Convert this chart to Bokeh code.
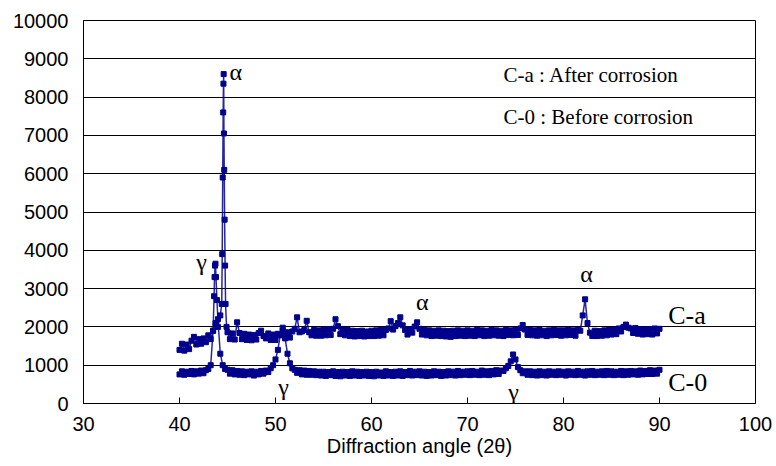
import numpy as np
from bokeh.plotting import figure
from bokeh.models import Label, FixedTicker, ColumnDataSource
from bokeh.embed import file_html
from bokeh.resources import INLINE

# ---------------- data ----------------
# base scan grid: 40.00 .. 90.00 deg, step 0.25 deg
grid_start = 40.0
grid_step = 0.25

c0_y = [
    760, 840, 750, 830, 770, 850, 760, 840, 780, 860, 790, 870, 900, 1000, 1900, 3650, 2200, 1300, 1000, 900,
    880, 780, 870, 760, 850, 750, 840, 740, 830, 760, 840, 730, 830, 760, 850, 780, 860, 820, 920, 1000,
    1150, 1400, 1800, 1980, 1700, 1300, 1050, 920, 880, 800, 870, 760, 860, 750, 850, 750, 840, 740, 830, 730,
    830, 720, 820, 740, 840, 720, 820, 710, 830, 730, 820, 720, 840, 730, 830, 720, 820, 730, 830, 720,
    820, 710, 830, 730, 810, 720, 840, 730, 820, 720, 830, 730, 840, 720, 820, 740, 850, 730, 830, 740,
    840, 730, 830, 720, 820, 730, 840, 740, 830, 720, 820, 730, 840, 740, 830, 730, 850, 740, 830, 750,
    840, 740, 850, 750, 830, 740, 860, 750, 840, 740, 850, 760, 870, 770, 860, 850, 920, 980, 1100, 1280,
    1150, 950, 870, 790, 840, 750, 840, 740, 830, 730, 840, 740, 830, 730, 840, 750, 830, 740, 840, 750,
    830, 730, 840, 750, 830, 740, 850, 750, 830, 730, 840, 750, 850, 740, 830, 750, 840, 740, 850, 750,
    840, 740, 830, 750, 850, 740, 840, 750, 850, 760, 840, 750, 860, 760, 850, 770, 870, 770, 860, 780,
    880,
]
# extra fine points on the C-0 gamma peak
c0_peak_x = [43.60, 43.65, 43.70, 43.80, 43.90]
c0_peak_y = [2800, 3300, 3600, 3300, 2700]

ca_y = [
    1400, 1560, 1380, 1540, 1420, 1640, 1740, 1540, 1680, 1560, 1700, 1600, 1780, 1680, 1900, 2100, 2000, 2300, 5900, 3600,
    1860, 1680, 1830, 1670, 2120, 1840, 1680, 1820, 1660, 1800, 1650, 1790, 1670, 1840, 1900, 1760, 1700, 1830, 1660, 1800,
    1660, 1820, 1780, 1900, 1740, 1860, 1720, 1880, 1950, 2250, 1860, 1880, 1920, 2160, 1860, 1780, 1920, 1770, 1910, 1770,
    1920, 1780, 1940, 1790, 1950, 2200, 2020, 1810, 1930, 1780, 1920, 1760, 1900, 1750, 1890, 1760, 1900, 1750, 1880, 1760,
    1900, 1760, 1910, 1770, 1920, 1780, 1920, 1960, 2150, 1930, 2020, 2100, 2250, 2040, 1920, 1800, 1940, 1850, 2010, 2120,
    1950, 1800, 1920, 1780, 1910, 1760, 1900, 1770, 1910, 1760, 1900, 1750, 1890, 1740, 1900, 1760, 1910, 1770, 1900, 1760,
    1910, 1770, 1900, 1760, 1920, 1780, 1910, 1760, 1900, 1770, 1920, 1780, 1910, 1770, 1900, 1760, 1920, 1790, 1910, 1780,
    1920, 1790, 1960, 2050, 1930, 1790, 1920, 1780, 1910, 1770, 1920, 1780, 1900, 1760, 1910, 1780, 1920, 1790, 1910, 1770,
    1910, 1780, 1920, 1790, 1910, 1770, 1920, 1900, 2300, 2720, 2100, 1850, 1760, 1900, 1760, 1890, 1770, 1910, 1780, 1920,
    1800, 1930, 1810, 1960, 1880, 2000, 2060, 1980, 1960, 1840, 1970, 1820, 1940, 1800, 1930, 1810, 1940, 1800, 1960, 1830,
    1950,
]
# extra fine points on the C-a alpha peak
ca_peak_x = [44.40, 44.45, 44.55, 44.58, 44.60, 44.63, 44.66, 44.70, 44.80, 44.90]
ca_peak_y = [2600, 3900, 7600, 8350, 8600, 7050, 6100, 4800, 2600, 2000]

x_ticks = [30, 40, 50, 60, 70, 80, 90, 100]
y_ticks = [0, 1000, 2000, 3000, 4000, 5000, 6000, 7000, 8000, 9000, 10000]


def merged(base_y, px, py):
    bx = [grid_start + grid_step * i for i in range(len(base_y))]
    xs = np.array(bx + px)
    ys = np.array(base_y + py)
    order = np.argsort(xs, kind="stable")
    return xs[order], ys[order]


c0_x_all, c0_y_all = merged(c0_y, c0_peak_x, c0_peak_y)
ca_x_all, ca_y_all = merged(ca_y, ca_peak_x, ca_peak_y)

# ---------------- figure ----------------
NAVY = "#00008C"
SANS = "Liberation Sans"
SERIF = "Liberation Serif"

p = figure(width=772, height=464, output_backend="svg", toolbar_location=None,
           x_range=(30, 100), y_range=(0, 10000),
           min_border_left=83, min_border_right=17, min_border_top=20, min_border_bottom=61)
p.background_fill_color = "white"
p.border_fill_color = "white"
p.outline_line_color = "black"
p.outline_line_width = 1

p.xgrid.grid_line_color = None
p.ygrid.grid_line_color = "black"
p.ygrid.grid_line_width = 1
p.ygrid.ticker = FixedTicker(ticks=y_ticks)

p.xaxis.ticker = FixedTicker(ticks=x_ticks)
p.yaxis.ticker = FixedTicker(ticks=y_ticks)
p.xaxis.major_tick_in = 6
p.xaxis.major_tick_out = 0
p.yaxis.major_tick_in = 0
p.yaxis.major_tick_out = 0
p.xaxis.minor_tick_line_color = None
p.yaxis.minor_tick_line_color = None
p.xaxis.axis_line_color = "black"
p.yaxis.axis_line_color = "black"
p.xaxis.major_tick_line_color = "black"

for ax in (p.xaxis, p.yaxis):
    ax.major_label_text_font = SANS
    ax.major_label_text_font_size = "20px"
    ax.major_label_text_color = "black"

p.xaxis.major_label_standoff = 13
p.yaxis.major_label_standoff = 15
p.xaxis.axis_label = "Diffraction angle (2θ)"
p.xaxis.axis_label_text_font = SANS
p.xaxis.axis_label_text_font_size = "20px"
p.xaxis.axis_label_text_font_style = "normal"
p.xaxis.axis_label_text_color = "black"
p.xaxis.axis_label_standoff = 1

src0 = ColumnDataSource(dict(x=c0_x_all, y=c0_y_all))
srca = ColumnDataSource(dict(x=ca_x_all, y=ca_y_all))
for s in (src0, srca):
    p.line("x", "y", source=s, line_color=NAVY, line_width=1.5, line_alpha=0.85)
    p.scatter("x", "y", source=s, marker="square", size=5, fill_color=NAVY, line_color=NAVY)


def lab(x, y, t, size, font=SERIF, align="left"):
    p.add_layout(Label(x=x, y=y, text=t, text_font=font, text_font_size=size,
                       text_align=align, text_baseline="middle", text_color="black"))


lab(45.2, 8650, "α", "24px")
lab(42.3, 3700, "γ", "24px", align="center")
lab(50.85, 420, "γ", "24px", align="center")
lab(65.3, 2650, "α", "24px", align="center")
lab(74.8, 310, "γ", "24px", align="center")
lab(82.4, 3380, "α", "24px", align="center")
lab(73.75, 8580, "C-a : After corrosion", "21px")
lab(73.75, 7480, "C-0 : Before corrosion", "21px")
lab(90.9, 2300, "C-a", "26px")
lab(90.9, 540, "C-0", "26px")

open("out.html", "w").write(file_html(p, INLINE))
